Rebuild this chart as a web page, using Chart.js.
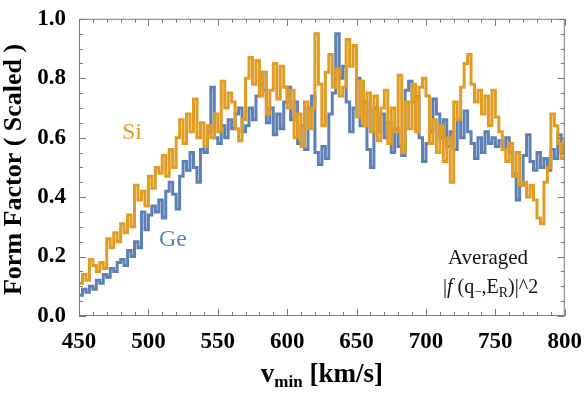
<!DOCTYPE html>
<html>
<head>
<meta charset="utf-8">
<script src="https://cdn.jsdelivr.net/npm/chart.js@4"></script>
<style>
  html, body { margin: 0; padding: 0; background: #fff; }
  #wrap { width: 586px; height: 394px; position: relative; }
</style>
</head>
<body>
<div id="wrap"><canvas id="myChart"></canvas></div>
<script>
// averaged |f|^2 vs v_min, sampled every 2.5 km/s from 450 to 800
const siValues = [
  0.11, 0.14, 0.12, 0.19, 0.17, 0.15, 0.18, 0.16,
  0.26, 0.23, 0.28, 0.25, 0.31, 0.28, 0.34, 0.30,
  0.44, 0.39, 0.42, 0.37, 0.47, 0.43, 0.50, 0.48,
  0.54, 0.47, 0.56, 0.50, 0.60, 0.66, 0.58, 0.68,
  0.62, 0.73, 0.60, 0.65, 0.57, 0.64, 0.60, 0.68,
  0.62, 0.79, 0.70, 0.75, 0.72, 0.63, 0.59, 0.66,
  0.80, 0.87, 0.78, 0.86, 0.74, 0.82, 0.68, 0.76,
  0.85, 0.73, 0.84, 0.77, 0.70, 0.76, 0.60, 0.68,
  0.57, 0.72, 0.63, 0.70, 0.95, 0.78, 0.64, 0.82,
  0.88, 0.77, 0.83, 0.74, 0.77, 0.93, 0.84, 0.91,
  0.67, 0.79, 0.64, 0.75, 0.62, 0.74, 0.59, 0.70,
  0.76, 0.58, 0.70, 0.62, 0.81, 0.55, 0.72, 0.63,
  0.78, 0.62, 0.77, 0.80, 0.74, 0.58, 0.66, 0.55,
  0.64, 0.52, 0.60, 0.45, 0.72, 0.66, 0.77, 0.85,
  0.88, 0.78, 0.72, 0.76, 0.68, 0.74, 0.64, 0.76,
  0.67, 0.62, 0.56, 0.52, 0.58, 0.47, 0.55, 0.44,
  0.45, 0.40, 0.44, 0.39, 0.33, 0.31, 0.45, 0.50,
  0.68, 0.64, 0.58, 0.53, 0.60
];
const geValues = [
  0.07, 0.09, 0.08, 0.10, 0.09, 0.12, 0.11, 0.14,
  0.13, 0.16, 0.15, 0.18, 0.19, 0.17, 0.22, 0.20,
  0.25, 0.23, 0.35, 0.29, 0.34, 0.37, 0.35, 0.39,
  0.33, 0.42, 0.45, 0.41, 0.36, 0.47, 0.52, 0.49,
  0.55, 0.50, 0.45, 0.56, 0.55, 0.62, 0.77, 0.60,
  0.58, 0.64, 0.60, 0.66, 0.63, 0.68, 0.70, 0.62,
  0.64, 0.70, 0.66, 0.74, 0.82, 0.76, 0.65, 0.70,
  0.61, 0.68, 0.63, 0.72, 0.77, 0.66, 0.72, 0.58,
  0.64, 0.56, 0.70, 0.74, 0.55, 0.51, 0.57, 0.53,
  0.68, 0.75, 0.95, 0.80, 0.84, 0.72, 0.62, 0.70,
  0.80, 0.64, 0.72, 0.56, 0.50, 0.70, 0.62, 0.68,
  0.60, 0.65, 0.55, 0.63, 0.57, 0.54, 0.76, 0.79,
  0.72, 0.74, 0.60, 0.52, 0.58, 0.62, 0.73, 0.68,
  0.60, 0.66, 0.57, 0.62, 0.56, 0.66, 0.60, 0.69,
  0.62, 0.58, 0.53, 0.60, 0.55, 0.62, 0.58, 0.60,
  0.57, 0.59, 0.56, 0.60, 0.55, 0.48, 0.39, 0.44,
  0.54, 0.61, 0.52, 0.49, 0.55, 0.50, 0.53, 0.49,
  0.56, 0.53, 0.61, 0.55, 0.58
];
const vmin = siValues.map((_, i) => 450 + 2.5 * i);
const xTicks = [450, 500, 550, 600, 650, 700, 750, 800];
const yTicks = [0.0, 0.2, 0.4, 0.6, 0.8, 1.0];

const SI_COLOR = "#e19c24";
const GE_COLOR = "#5e81b5";
const SERIF = "'Liberation Serif', 'DejaVu Serif', serif";

// frame with inward ticks on all four sides, plus the text annotations
const framePlugin = {
  id: "frame",
  afterDraw(chart) {
    const { ctx, chartArea: a, scales } = chart;
    const xs = scales.x, ys = scales.y;
    ctx.save();
    ctx.strokeStyle = "#7a7a7a";
    ctx.lineWidth = 1;
    ctx.strokeRect(a.left + 0.5, a.top + 0.5, a.right - a.left - 1, a.bottom - a.top - 1);
    ctx.beginPath();
    for (let v = 450; v <= 800; v += 10) {
      const px = Math.round(xs.getPixelForValue(v)) + 0.5;
      const len = v % 50 === 0 ? 7 : 4;
      ctx.moveTo(px, a.bottom); ctx.lineTo(px, a.bottom - len);
      ctx.moveTo(px, a.top); ctx.lineTo(px, a.top + len);
    }
    for (let k = 0; k <= 20; k++) {
      const py = Math.round(ys.getPixelForValue(k * 0.05)) + 0.5;
      const len = k % 4 === 0 ? 7 : 4;
      ctx.moveTo(a.left, py); ctx.lineTo(a.left + len, py);
      ctx.moveTo(a.right, py); ctx.lineTo(a.right - len, py);
    }
    ctx.stroke();

    // series labels
    ctx.font = "24px " + SERIF;
    ctx.textAlign = "left";
    ctx.textBaseline = "alphabetic";
    ctx.fillStyle = SI_COLOR;
    ctx.fillText("Si", 122, 139);
    ctx.fillStyle = GE_COLOR;
    ctx.fillText("Ge", 159, 246);

    // note in the corner
    ctx.fillStyle = "#111";
    ctx.textAlign = "center";
    ctx.font = "21px " + SERIF;
    ctx.fillText("Averaged", 488, 264);
    let x = 443;
    const base = 293;
    const put = (t, font, dy = 0) => {
      ctx.font = font;
      ctx.textAlign = "left";
      ctx.fillText(t, x, base + dy);
      x += ctx.measureText(t).width;
    };
    put("|", "20px " + SERIF);
    put("f", "italic 20px " + SERIF);
    put(" (q", "20px " + SERIF);
    put("\u2212", "13px " + SERIF, 3);
    put(",E", "20px " + SERIF);
    put("R", "14px " + SERIF, 4);
    put(")|^2", "20px " + SERIF);

    // axis titles
    ctx.fillStyle = "#000";
    ctx.font = "bold 27px " + SERIF;
    const w1 = ctx.measureText("v").width;
    ctx.font = "bold 17px " + SERIF;
    const w2 = ctx.measureText("min").width;
    ctx.font = "bold 27px " + SERIF;
    const w3 = ctx.measureText(" [km/s]").width;
    let tx = (a.left + a.right) / 2 - (w1 + w2 + w3) / 2;
    ctx.textAlign = "left";
    ctx.fillText("v", tx, 382);
    ctx.font = "bold 17px " + SERIF;
    ctx.fillText("min", tx + w1, 387);
    ctx.font = "bold 27px " + SERIF;
    ctx.fillText(" [km/s]", tx + w1 + w2, 382);

    ctx.translate(21, (a.top + a.bottom) / 2 + 2);
    ctx.rotate(-Math.PI / 2);
    ctx.textAlign = "center";
    ctx.font = "bold 26px " + SERIF;
    ctx.fillText("Form Factor ( Scaled )", 0, 0);
    ctx.restore();
  }
};

const ctx = document.getElementById("myChart").getContext("2d");
new Chart(ctx, {
  type: "line",
  data: {
    datasets: [
      {
        label: "Si",
        data: vmin.map((v, i) => ({ x: v, y: siValues[i] })),
        borderColor: SI_COLOR,
        borderWidth: 3,
        pointRadius: 0,
        stepped: true,
        order: 0,
      },
      {
        label: "Ge",
        data: vmin.map((v, i) => ({ x: v, y: geValues[i] })),
        borderColor: GE_COLOR,
        borderWidth: 3,
        pointRadius: 0,
        stepped: true,
        order: 1,
      },
    ],
  },
  options: {
    responsive: true,
    maintainAspectRatio: false,
    animation: false,
    layout: { padding: { top: 15, right: 20, left: 0, bottom: 0 } },
    plugins: { legend: { display: false }, tooltip: { enabled: false } },
    scales: {
      x: {
        type: "linear",
        min: 450,
        max: 800,
        afterBuildTicks: (s) => { s.ticks = xTicks.map((v) => ({ value: v })); },
        afterFit: (s) => { s.height = 78; },
        grid: { display: false },
        border: { display: false },
        ticks: {
          color: "#000",
          padding: 4,
          maxRotation: 0,
          font: { family: SERIF, size: 23, weight: "bold" },
        },
      },
      y: {
        min: 0,
        max: 1,
        afterBuildTicks: (s) => { s.ticks = yTicks.map((v) => ({ value: v })); },
        afterFit: (s) => { s.width = 79; },
        grid: { display: false },
        border: { display: false },
        ticks: {
          color: "#000",
          padding: 5,
          callback: (v) => v.toFixed(1),
          font: { family: SERIF, size: 23, weight: "bold" },
        },
      },
    },
  },
  plugins: [framePlugin],
});
</script>
</body>
</html>
